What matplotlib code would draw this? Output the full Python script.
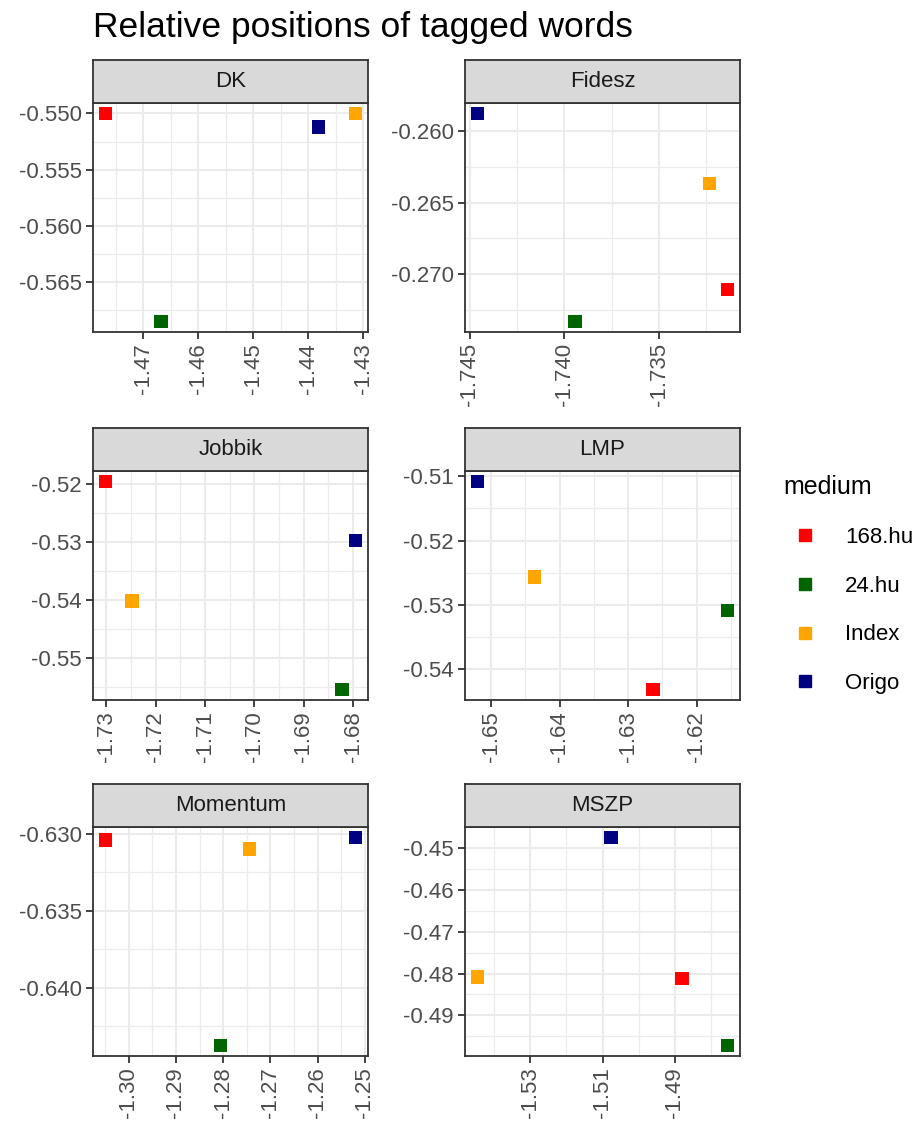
import numpy as np
import matplotlib
matplotlib.use('Agg')
import matplotlib.pyplot as plt
from matplotlib.ticker import FixedLocator, AutoMinorLocator, FormatStrFormatter
from matplotlib.lines import Line2D

plt.rcParams['font.family'] = ['Liberation Sans', 'DejaVu Sans']
plt.rcParams['axes.unicode_minus'] = False

media = ['168.hu', '24.hu', 'Index', 'Origo']
colors = ['#FF0000', '#006400', '#FFA500', '#000080']

parties = ['DK', 'Fidesz', 'Jobbik', 'LMP', 'Momentum', 'MSZP']

# x / y position of each medium (order: 168.hu, 24.hu, Index, Origo)
dk_x = [-1.4769, -1.4668, -1.4314, -1.4381]
dk_y = [-0.5500, -0.5685, -0.5500, -0.5512]
fidesz_x = [-1.73138, -1.73945, -1.73234, -1.7446]
fidesz_y = [-0.27104, -0.27328, -0.26369, -0.2588]
jobbik_x = [-1.7302, -1.6822, -1.7248, -1.6795]
jobbik_y = [-0.5196, -0.5554, -0.5402, -0.5298]
lmp_x = [-1.6264, -1.6155, -1.6437, -1.6520]
lmp_y = [-0.5432, -0.5309, -0.5257, -0.5108]
momentum_x = [-1.3049, -1.2806, -1.2744, -1.2520]
momentum_y = [-0.63039, -0.64376, -0.63098, -0.63022]
mszp_x = [-1.4880, -1.4753, -1.5447, -1.5076]
mszp_y = [-0.4812, -0.4972, -0.4808, -0.4475]

xs = [dk_x, fidesz_x, jobbik_x, lmp_x, momentum_x, mszp_x]
ys = [dk_y, fidesz_y, jobbik_y, lmp_y, momentum_y, mszp_y]

# axis breaks per facet
x_breaks = [[-1.47, -1.46, -1.45, -1.44, -1.43],
            [-1.745, -1.740, -1.735],
            [-1.73, -1.72, -1.71, -1.70, -1.69, -1.68],
            [-1.65, -1.64, -1.63, -1.62],
            [-1.30, -1.29, -1.28, -1.27, -1.26, -1.25],
            [-1.53, -1.51, -1.49]]
y_breaks = [[-0.550, -0.555, -0.560, -0.565],
            [-0.260, -0.265, -0.270],
            [-0.52, -0.53, -0.54, -0.55],
            [-0.51, -0.52, -0.53, -0.54],
            [-0.630, -0.635, -0.640],
            [-0.45, -0.46, -0.47, -0.48, -0.49]]
x_dec = [2, 3, 2, 2, 2, 2]
y_dec = [3, 3, 2, 2, 3, 2]

W, H = 920, 1124
fig = plt.figure(figsize=(W / 100, H / 100), dpi=100)

col_left = [93, 465]
panel_w = 275
row_top = [103, 471, 827]
panel_h = 229
strip_h = 43

dark = '#333333'
for i, party in enumerate(parties):
    r, c = divmod(i, 2)
    x0 = col_left[c]
    y0 = row_top[r]
    ax = fig.add_axes([x0 / W, 1 - (y0 + panel_h) / H, panel_w / W, panel_h / H])
    sax = fig.add_axes([x0 / W, 1 - y0 / H, panel_w / W, strip_h / H])
    sax.set_facecolor('#D9D9D9')
    sax.set_xticks([])
    sax.set_yticks([])
    for sp in sax.spines.values():
        sp.set_color(dark)
        sp.set_linewidth(1.3)
    sax.text(0.5, 0.5, party, ha='center', va='center', fontsize=16, color='#1A1A1A',
             transform=sax.transAxes)

    ax.scatter(xs[i], ys[i], c=colors, marker='s', s=95, linewidths=0, zorder=3)

    xmin, xmax = min(xs[i]), max(xs[i])
    ymin, ymax = min(ys[i]), max(ys[i])
    dx = (xmax - xmin) * 0.05
    dy = (ymax - ymin) * 0.05
    ax.set_xlim(xmin - dx, xmax + dx)
    ax.set_ylim(ymin - dy, ymax + dy)

    ax.xaxis.set_major_locator(FixedLocator(x_breaks[i]))
    ax.yaxis.set_major_locator(FixedLocator(y_breaks[i]))
    ax.xaxis.set_minor_locator(AutoMinorLocator(2))
    ax.yaxis.set_minor_locator(AutoMinorLocator(2))
    ax.xaxis.set_major_formatter(FormatStrFormatter('%%.%df' % x_dec[i]))
    ax.yaxis.set_major_formatter(FormatStrFormatter('%%.%df' % y_dec[i]))

    ax.grid(which='major', color='#EBEBEB', linewidth=1.5, zorder=0)
    ax.grid(which='minor', color='#EBEBEB', linewidth=0.9, zorder=0)
    ax.set_axisbelow(True)
    for sp in ax.spines.values():
        sp.set_color(dark)
        sp.set_linewidth(1.3)
    ax.tick_params(which='major', length=5, width=1.3, color=dark,
                   labelsize=16, labelcolor='#4D4D4D', pad=3)
    ax.tick_params(which='minor', length=0)
    for lab in ax.get_xticklabels():
        lab.set_rotation(90)
        lab.set_va('top')
        lab.set_ha('center')

fig.text(93 / W, 1 - 27 / H, 'Relative positions of tagged words', fontsize=25.5,
         color='black', ha='left', va='center')

handles = [Line2D([], [], marker='s', linestyle='none', color=col, markersize=9)
           for col in colors]
leg = fig.legend(handles, media, title='medium', loc='upper left',
                 bbox_to_anchor=(763 / W, 1 - 455 / H), frameon=False,
                 fontsize=16, title_fontsize=18, labelspacing=1.25,
                 handletextpad=0.8, alignment='left')

fig.savefig('out.png', dpi=100)
